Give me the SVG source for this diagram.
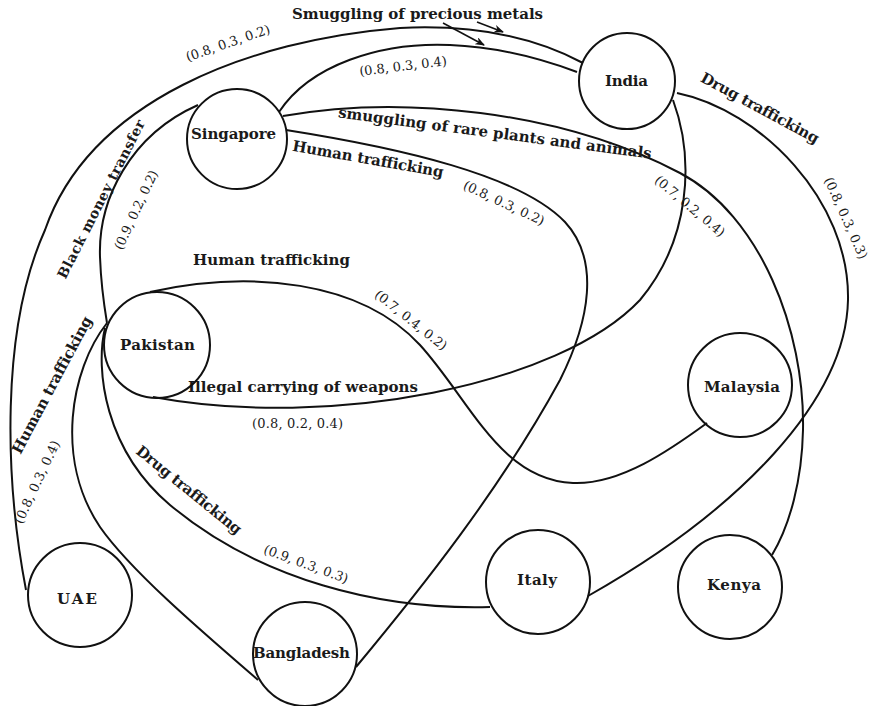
<svg xmlns="http://www.w3.org/2000/svg" width="870" height="706" viewBox="0 0 870 706">
<style>
.node circle{fill:none;stroke:#111;stroke-width:2}
.edge{fill:none;stroke:#111;stroke-width:2}
.ptr{fill:none;stroke:#111;stroke-width:1.6}
text{fill:#1a1a1a}
.lbl{font-family:"DejaVu Serif","Liberation Serif",serif;font-weight:bold;font-size:15px}
.num{font-family:"DejaVu Serif","Liberation Serif",serif;font-size:13px}
.rot{text-anchor:middle;dominant-baseline:central}
.nl{font-family:"DejaVu Serif","Liberation Serif",serif;font-weight:bold;font-size:15px;text-anchor:middle}
</style>
<defs>
<marker id="arr" viewBox="0 0 10 8" refX="9" refY="4" markerWidth="10" markerHeight="8" orient="auto" markerUnits="userSpaceOnUse"><path d="M0,0 L10,4 L0,8 L3,4 z" fill="#111"/></marker>
</defs>
<g id="connectors">
<path id="e-uae-india" class="edge" d="M26,590 C5,480 0,330 45,230 C90,100 250,40 400,28 C480,24 540,40 583,63"/>
<path id="e-sing-india" class="edge" d="M279,112 C310,65 380,42 450,45 C500,47 545,60 577,72"/>
<path id="e-sing-kenya" class="edge" d="M283,116 C400,95 560,110 680,173 C760,215 805,330 803,430 C802,480 790,525 772,555"/>
<path id="e-sing-bang" class="edge" d="M286,130 C400,148 520,175 565,222 C600,260 590,320 560,380 C500,490 420,590 356,667"/>
<path id="e-pak-malay" class="edge" d="M150,292 C250,270 360,280 420,345 C470,400 500,480 573,483 C620,485 670,450 707,423"/>
<path id="e-india-pak" class="edge" d="M673,100 C695,160 690,240 640,300 C560,385 330,430 153,397"/>
<path id="e-india-italy" class="edge" d="M677,93 C760,110 850,200 848,300 C846,400 740,510 588,596"/>
<path id="e-sing-pak" class="edge" d="M198,105 C130,135 98,200 100,257 C101,285 104,305 107,323"/>
<path id="e-pak-bang" class="edge" d="M107,323 C70,370 55,460 100,527 C130,570 200,630 258,680"/>
<path id="e-pak-italy" class="edge" d="M105,328 C95,370 105,450 170,505 C260,580 380,610 490,607"/>
<path class="ptr" d="M477,22 L503,32" marker-end="url(#arr)"/>
<path class="ptr" d="M443,23 L484,45" marker-end="url(#arr)"/>
</g>
<g id="edge-labels">
<text class="lbl" x="292" y="19" textLength="251">Smuggling of precious metals</text>
<text class="num rot" transform="translate(228,43) rotate(-19)" textLength="88">(0.8, 0.3, 0.2)</text>
<text class="num rot" transform="translate(403,66) rotate(-7)" textLength="88">(0.8, 0.3, 0.4)</text>
<text class="lbl rot" transform="translate(101,199) rotate(-63)" textLength="176" style="font-size:14px">Black money transfer</text>
<text class="num rot" transform="translate(136,210) rotate(-65)" textLength="86">(0.9, 0.2, 0.2)</text>
<text class="lbl rot" transform="translate(368,159) rotate(10)" textLength="153">Human trafficking</text>
<text class="num rot" transform="translate(504,203) rotate(25)" textLength="88">(0.8, 0.3, 0.2)</text>
<text class="lbl rot" transform="translate(495,133) rotate(7.5)" textLength="316">smuggling of rare plants and animals</text>
<text class="num rot" transform="translate(690,206) rotate(40)" textLength="87">(0.7, 0.2, 0.4)</text>
<text class="lbl rot" transform="translate(760,108) rotate(28.5)" textLength="132">Drug trafficking</text>
<text class="num rot" transform="translate(846,218) rotate(66)" textLength="88">(0.8, 0.3, 0.3)</text>
<text class="lbl" x="193" y="265" textLength="157">Human trafficking</text>
<text class="num rot" transform="translate(411,320) rotate(38.5)" textLength="88">(0.7, 0.4, 0.2)</text>
<text class="lbl" x="188" y="392" textLength="230">Illegal carrying of weapons</text>
<text class="num" x="252" y="428" textLength="91">(0.8, 0.2, 0.4)</text>
<text class="lbl rot" transform="translate(52,385) rotate(-62)" textLength="153">Human trafficking</text>
<text class="num rot" transform="translate(37,482) rotate(-65)" textLength="90">(0.8, 0.3, 0.4)</text>
<text class="lbl rot" transform="translate(189,490) rotate(39)" textLength="131">Drug trafficking</text>
<text class="num rot" transform="translate(306,564) rotate(20)" textLength="89">(0.9, 0.3, 0.3)</text>
</g>
<g id="india" class="node"><circle cx="627" cy="81" r="48"/><text class="nl" x="626.5" y="86" textLength="43">India</text></g>
<g id="singapore" class="node"><circle cx="237" cy="139" r="50"/><text class="nl" x="233.5" y="139" textLength="85">Singapore</text></g>
<g id="pakistan" class="node"><circle cx="157" cy="345" r="53"/><text class="nl" x="157.5" y="350" textLength="75">Pakistan</text></g>
<g id="uae" class="node"><circle cx="80" cy="595" r="52"/><text class="nl" x="77" y="604" textLength="40">UAE</text></g>
<g id="bangladesh" class="node"><circle cx="305" cy="654" r="52"/><text class="nl" x="301.5" y="658" textLength="97">Bangladesh</text></g>
<g id="italy" class="node"><circle cx="538" cy="582" r="52"/><text class="nl" x="537" y="585" textLength="40">Italy</text></g>
<g id="malaysia" class="node"><circle cx="740" cy="385" r="52"/><text class="nl" x="742" y="392" textLength="76">Malaysia</text></g>
<g id="kenya" class="node"><circle cx="730" cy="587" r="52"/><text class="nl" x="734" y="590" textLength="54">Kenya</text></g>
</svg>
